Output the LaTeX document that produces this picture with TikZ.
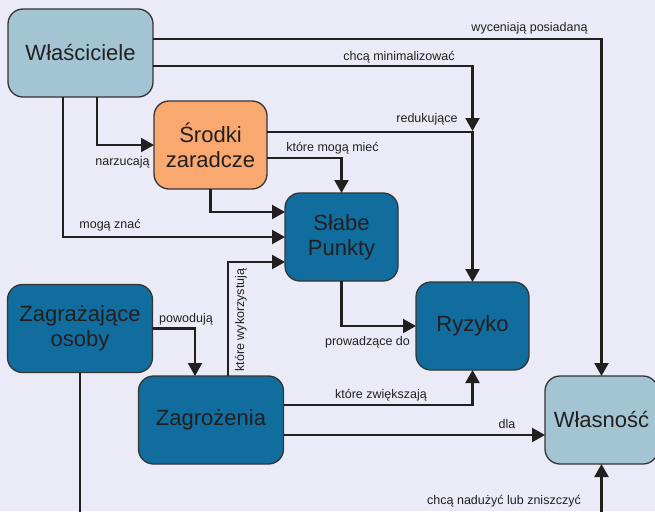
\documentclass[tikz,border=0pt]{standalone}
\usepackage{fontspec}
\setmainfont{Liberation Sans}
\usetikzlibrary{arrows.meta}
\definecolor{bgcol}{HTML}{EBEBF7}
\definecolor{paleblue}{HTML}{A3C4D3}
\definecolor{peach}{HTML}{F9A870}
\definecolor{deepblue}{HTML}{106D9E}
\definecolor{ink}{HTML}{231F20}
\definecolor{edge}{HTML}{353535}
\tikzset{
  box/.style={draw=edge, line width=1.3pt, rounded corners=15pt, inner sep=0pt, outer sep=0pt,
    minimum height=88pt, align=center, text=ink, font=\fontsize{22}{25}\selectfont},
  wide/.style={box, minimum width=145pt},
  narrow/.style={box, minimum width=113pt},
  arr/.style={draw=ink, line width=2.2pt, -{Triangle[length=13pt,width=14pt]}},
  lbl/.style={anchor=base, text=ink, inner sep=0pt, font=\fontsize{12.5}{14}\selectfont},
}
\begin{document}
\begin{tikzpicture}[x=1pt, y=-1pt]
  \fill[bgcol] (0,0) rectangle (655,511);
  \useasboundingbox (0,0) rectangle (655,511);
  \clip (0,0) rectangle (655,511);

  % boxes
  \node[wide, fill=paleblue]   (wl)   at (80.5,53)   {Właściciele};
  \node[narrow, fill=peach]    (sr)   at (210.5,145) {Środki\\zaradcze};
  \node[narrow, fill=deepblue] (sl)   at (341.5,237) {Słabe\\Punkty};
  \node[narrow, fill=deepblue] (ryz)  at (472.5,326) {Ryzyko};
  \node[narrow, fill=paleblue] (wlas) at (601.5,420) {Własność};
  \node[wide, fill=deepblue]   (za)   at (80,328.5)  {Zagrażające\\osoby};
  \node[wide, fill=deepblue]   (zg)   at (211,420)   {Zagrożenia};

  % helper coordinates for the routing of the connectors
  \coordinate (h39)  at (0,39);
  \coordinate (h66)  at (0,66);
  \coordinate (h132) at (0,132);
  \coordinate (h158) at (0,158);
  \coordinate (h212) at (0,212);
  \coordinate (h262) at (0,262);
  \coordinate (h405) at (0,405);
  \coordinate (h435) at (0,435);
  \coordinate (v63)  at (63,0);
  \coordinate (v97)  at (97,0);
  \coordinate (v195) at (195,0);
  \coordinate (v228) at (228,0);
  \coordinate (junc) at (472.5,131);
  \coordinate (low)  at (80,540);

  % connectors
  \draw[arr] (wl.east |- h39) -| (wlas.north);
  \draw[arr] (wl.east |- h66) -| (junc);
  \draw[arr] (sr.east |- h132) -| (ryz.north);
  \draw[arr] (sr.east |- h158) -| (sl.north);
  \draw[arr] (sr.south) |- (sl.west |- h212);
  \draw[arr] (wl.south -| v97) |- (sr.west);
  \draw[arr] (wl.south -| v63) |- (sl.west);
  \draw[arr] (zg.north -| v228) |- (sl.west |- h262);
  \draw[arr] (za.east) -| (zg.north -| v195);
  \draw[arr] (sl.south) |- (ryz.west);
  \draw[arr] (zg.east |- h405) -| (ryz.south);
  \draw[arr] (zg.east |- h435) -- (wlas.west |- h435);
  \draw[arr] (za.south) -- (low) -| (wlas.south);

  % connector labels
  \node[lbl] (t1)  at (529.5,32)  {wyceniają posiadaną};
  \node[lbl] (t2)  at (399,60)    {chcą minimalizować};
  \node[lbl] (t3)  at (427,122)   {redukujące};
  \node[lbl] (t4)  at (332.5,151) {które mogą mieć};
  \node[lbl] (t5)  at (122.5,165) {narzucają};
  \node[lbl] (t6)  at (110,228)   {mogą znać};
  \node[lbl, rotate=90] (t7) at (244,320) {które wykorzystują};
  \node[lbl] (t8)  at (186,322)   {powodują};
  \node[lbl] (t9)  at (367.5,345) {prowadzące do};
  \node[lbl] (t10) at (381,398)   {które zwiększają};
  \node[lbl] (t11) at (507,428)   {dla};
  \node[lbl] (t12) at (504,504)   {chcą nadużyć lub zniszczyć};
\end{tikzpicture}
\end{document}
